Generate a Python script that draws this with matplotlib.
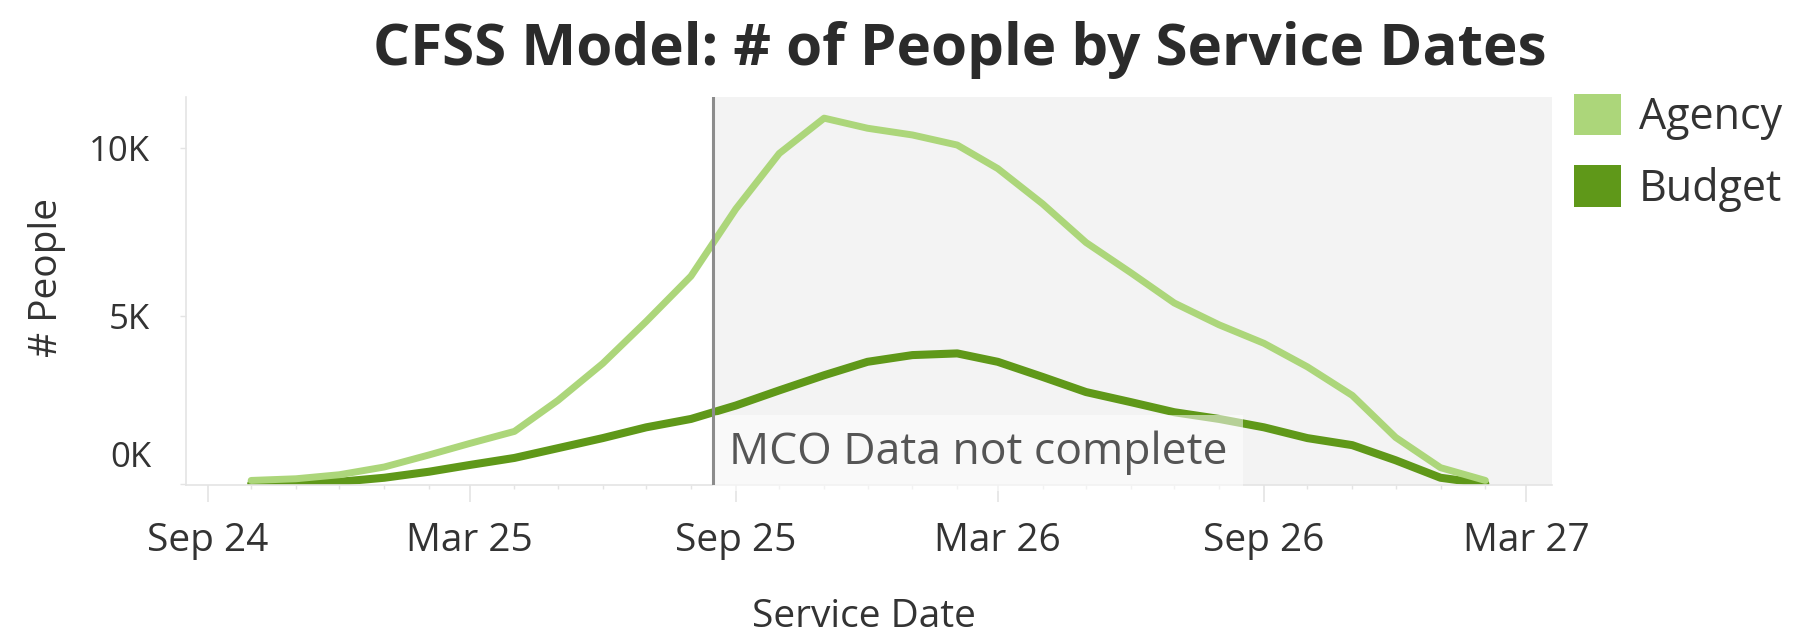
import numpy as np
import pandas as pd
import matplotlib
matplotlib.use("Agg")
import matplotlib.pyplot as plt
import matplotlib.dates as mdates
from matplotlib.patches import Patch

plt.rcParams['font.family'] = ['Open Sans', 'DejaVu Sans']

# monthly service dates, Oct 2024 .. Feb 2027
months = pd.date_range('2024-10-01', '2027-02-01', freq='MS')

# number of people (thousands)
agency = [0.12, 0.17, 0.29, 0.52, 0.88, 1.22, 1.58, 2.50, 3.60, 4.85,
          6.20, 8.20, 9.85, 10.90, 10.60, 10.40, 10.10, 9.40, 8.35, 7.20,
          6.30, 5.40, 4.75, 4.20, 3.50, 2.65, 1.40, 0.50, 0.12]
budget = [0.02, 0.04, 0.08, 0.20, 0.38, 0.58, 0.79, 1.08, 1.38, 1.70,
          1.95, 2.35, 2.80, 3.25, 3.65, 3.85, 3.90, 3.65, 3.20, 2.75,
          2.45, 2.15, 1.95, 1.70, 1.38, 1.17, 0.72, 0.20, 0.02]

series_names = ['Agency', 'Budget']
series_colors = ['#acd67a', '#5f9819']

cutoff_date = pd.Timestamp('2025-08-16')
cutoff_label = 'MCO Data not complete'
x_start = pd.Timestamp('2024-08-17')
x_end = pd.Timestamp('2027-03-19')

tick_dates = pd.date_range('2024-09-01', '2027-03-01', freq='6MS')
tick_labels = [d.strftime('%b %y') for d in tick_dates]
ytick_vals = [0, 5000, 10000]
ytick_labels = ['0K', '5K', '10K']

text_col = '#333333'
axis_col = '#e4e4e4'

fig = plt.figure(figsize=(18.01, 6.41), dpi=100)
ax = fig.add_axes([0.1033, 0.2434, 0.7584, 0.6053])

# shaded region after the cutoff + cutoff line
ax.axvspan(cutoff_date, x_end, color='#f3f3f3', lw=0, zorder=0)
ax.axvline(cutoff_date, color='#8c8c8c', lw=2.2, zorder=5)

ax.plot(months, np.array(budget) * 1000, color=series_colors[1], lw=5.8,
        solid_capstyle='round', zorder=2)
ax.plot(months, np.array(agency) * 1000, color=series_colors[0], lw=5.0,
        solid_capstyle='round', zorder=3)

ax.annotate(cutoff_label, xy=(mdates.date2num(cutoff_date), 0.0),
            xycoords=('data', 'axes fraction'), xytext=(16, 10),
            textcoords='offset pixels', ha='left', va='bottom',
            fontsize=32, color='#555555', zorder=4,
            bbox=dict(boxstyle='square,pad=0.35', fc='white', ec='none',
                      alpha=0.55))

ax.set_xlim(x_start, x_end)
ax.set_ylim(-15, 11530)

ax.set_xticks(tick_dates)
ax.set_xticklabels(tick_labels)
ax.xaxis.set_minor_locator(mdates.MonthLocator())
ax.tick_params(axis='x', which='major', length=12, width=1.2,
               color=axis_col, pad=15, labelsize=28, labelcolor=text_col)
ax.tick_params(axis='x', which='minor', length=3, width=1.0, color=axis_col)

ax.set_yticks(ytick_vals)
ax.set_yticklabels(['', '5K', '10K'])
ax.tick_params(axis='y', length=4, width=1.0, color=axis_col, pad=22,
               labelsize=25, labelcolor=text_col)
# Tableau lifts the bottom label off the baseline
ax.annotate(ytick_labels[0], xy=(0, 0), xycoords=('axes fraction', 'data'),
            xytext=(-35, 26), textcoords='offset pixels', ha='right',
            va='center', fontsize=25, color=text_col)

for side in ['top', 'right']:
    ax.spines[side].set_visible(False)
for side in ['left', 'bottom']:
    ax.spines[side].set_color(axis_col)
    ax.spines[side].set_linewidth(1.2)

ax.set_xlabel('Service Date', fontsize=28, color=text_col)
ax.xaxis.set_label_coords(0.496, -0.292)
ax.set_ylabel('# People', fontsize=28, color=text_col)
ax.yaxis.set_label_coords(-0.0878, 0.536)

fig.text(0.533, 1 - 65 / 641, 'CFSS Model: # of People by Service Dates',
         ha='center', va='baseline', fontsize=42, fontweight='bold',
         color='#2b2b2b')

handles = [Patch(facecolor=c, edgecolor='none') for c in series_colors]
fig.legend(handles, series_names, loc='upper left',
           bbox_to_anchor=(1574 / 1801, 1 - 94 / 641), frameon=False,
           fontsize=31, handlelength=1.1, handleheight=1.1,
           handletextpad=0.4, labelspacing=0.58, borderpad=0,
           borderaxespad=0, labelcolor=text_col)

fig.savefig('out.png', dpi=100)
